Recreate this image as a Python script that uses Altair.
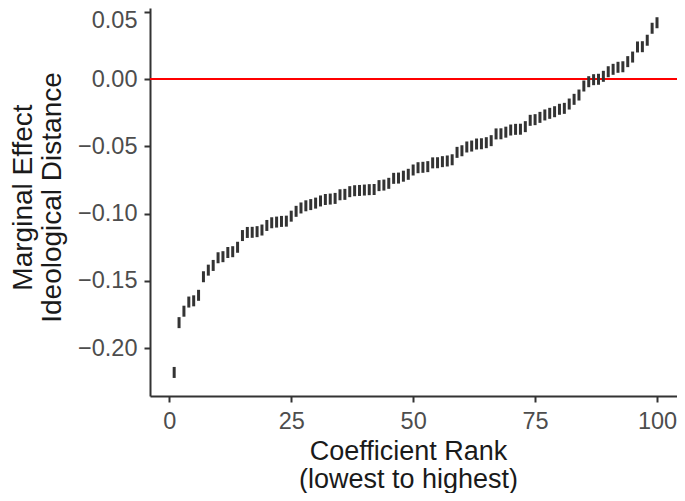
import altair as alt
import pandas as pd

# Coefficient rank (x) and marginal effect of ideological distance (y)
ranks = list(range(1, 101))
coefficients = [
    -0.2180, -0.1810, -0.1725, -0.1657, -0.1648, -0.1607, -0.1469, -0.1420, -0.1385, -0.1328,
    -0.1320, -0.1289, -0.1283, -0.1250, -0.1163, -0.1140, -0.1139, -0.1134, -0.1122, -0.1088,
    -0.1068, -0.1063, -0.1058, -0.1056, -0.1019, -0.0983, -0.0958, -0.0942, -0.0933, -0.0922,
    -0.0906, -0.0895, -0.0892, -0.0887, -0.0860, -0.0857, -0.0837, -0.0830, -0.0828, -0.0825,
    -0.0822, -0.0821, -0.0792, -0.0788, -0.0775, -0.0738, -0.0736, -0.0722, -0.0708, -0.0676,
    -0.0659, -0.0656, -0.0651, -0.0623, -0.0622, -0.0614, -0.0609, -0.0600, -0.0545, -0.0533,
    -0.0505, -0.0498, -0.0483, -0.0481, -0.0473, -0.0458, -0.0408, -0.0407, -0.0395, -0.0379,
    -0.0374, -0.0373, -0.0354, -0.0307, -0.0302, -0.0285, -0.0267, -0.0255, -0.0243, -0.0225,
    -0.0218, -0.0186, -0.0151, -0.0119, -0.0052, -0.0020, -0.0005, -0.0002, 0.0020, 0.0054,
    0.0072, 0.0087, 0.0091, 0.0129, 0.0163, 0.0238, 0.0240, 0.0288, 0.0377, 0.0418,
]
reference_line = [0.0]
y_ticks = [-0.20, -0.15, -0.10, -0.05, 0.00, 0.05]
x_ticks = [0, 25, 50, 75, 100]
x_title = ["Coefficient Rank", "(lowest to highest)"]
y_title = ["Marginal Effect", "Ideological Distance"]

df = pd.DataFrame({"rank": ranks, "coef": coefficients})
ref = pd.DataFrame({"y": reference_line})

FONT = "Liberation Sans, Arial, Helvetica, sans-serif"

x_scale = alt.Scale(domain=[-3.957, 104.1], nice=False, zero=False)
y_scale = alt.Scale(domain=[-0.2355, 0.05275], nice=False, zero=False)

x_axis = alt.Axis(
    values=x_ticks, title=x_title, labelPadding=7,
    titleX=258, titleY=42, titleAlign="center", titleBaseline="top",
    titleLineHeight=28, titleFontSize=27,
)
y_axis = alt.Axis(
    values=y_ticks, format=".2f", title=y_title, labelPadding=7,
    labelFlush=6, labelFlushOffset=3,
    titleAngle=-90, titleX=-141, titleY=189, titleAlign="center",
    titleBaseline="top", titleLineHeight=29,
)

rule = alt.Chart(ref).mark_rule(color="#FF0000", strokeWidth=2).encode(
    y=alt.Y("y:Q", scale=y_scale, axis=y_axis, title=y_title)
)

ticks = alt.Chart(df).mark_tick(
    orient="vertical", size=11, thickness=3, color="#333333", opacity=1
).encode(
    x=alt.X("rank:Q", scale=x_scale, axis=x_axis, title=x_title),
    y=alt.Y("coef:Q", scale=y_scale, axis=y_axis, title=y_title),
)

chart = alt.layer(rule, ticks).properties(
    width=527,
    height=388,
    autosize=alt.AutoSizeParams(type="none"),
    padding={"left": 142, "top": 0, "right": 0, "bottom": 97},
).configure_view(stroke=None).configure_axis(
    grid=False,
    domainColor="#333333", domainWidth=2,
    tickColor="#333333", tickWidth=2, tickSize=6,
    labelFont=FONT, labelFontSize=23.5, labelColor="#4d4d4d",
    titleFont=FONT, titleFontSize=28, titleColor="#1a1a1a", titleFontWeight="normal",
)

chart.save("out.html", embed_options={"renderer": "svg", "actions": False})
